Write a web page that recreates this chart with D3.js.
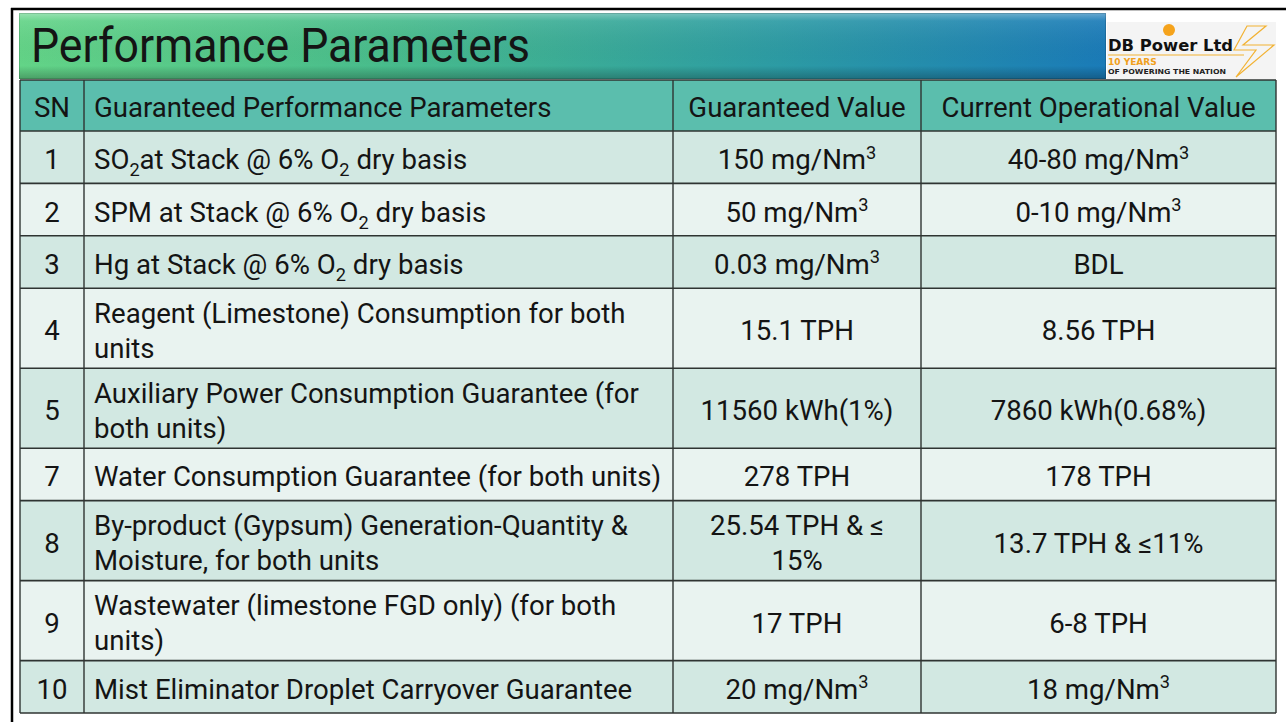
<!DOCTYPE html>
<html>
<head>
<meta charset="utf-8">
<script src="https://cdn.jsdelivr.net/npm/d3@7"></script>
<style>
  body { margin: 0; background: #fff; }
  svg text { font-family: Roboto, 'Noto Sans', sans-serif; fill: #141414; }
</style>
</head>
<body>
<svg id="chart" width="1286" height="722"></svg>
<script>
// ── Data ──────────────────────────────────────────────────────────────
// _{x} = subscript, ^{x} = superscript ; one array entry per text line
var title = 'Performance Parameters';
var headers = ['SN', 'Guaranteed Performance Parameters', 'Guaranteed Value', 'Current Operational Value'];
var sn = ['1', '2', '3', '4', '5', '7', '8', '9', '10'];
var params = [
  ['SO_{2}at Stack @ 6% O_{2} dry basis'],
  ['SPM at Stack @ 6% O_{2} dry basis'],
  ['Hg at Stack @ 6% O_{2} dry basis'],
  ['Reagent (Limestone) Consumption for both', 'units'],
  ['Auxiliary Power Consumption Guarantee (for', 'both units)'],
  ['Water Consumption Guarantee (for both units)'],
  ['By-product (Gypsum) Generation-Quantity &', 'Moisture, for both units'],
  ['Wastewater (limestone FGD only) (for both', 'units)'],
  ['Mist Eliminator Droplet Carryover Guarantee']
];
var guaranteed = [
  ['150 mg/Nm^{3}'], ['50 mg/Nm^{3}'], ['0.03 mg/Nm^{3}'], ['15.1 TPH'],
  ['11560 kWh(1%)'], ['278 TPH'], ['25.54 TPH & ≤', '15%'], ['17 TPH'], ['20 mg/Nm^{3}']
];
var current = [
  ['40-80 mg/Nm^{3}'], ['0-10 mg/Nm^{3}'], ['BDL'], ['8.56 TPH'],
  ['7860 kWh(0.68%)'], ['178 TPH'], ['13.7 TPH & ≤11%'], ['6-8 TPH'], ['18 mg/Nm^{3}']
];
var logoName = 'DB Power Ltd';
var logoYears = '10 YEARS';
var logoTag = 'OF POWERING THE NATION';

// ── Layout ────────────────────────────────────────────────────────────
var FS = 27.6;                      // body font size
var BASE = FS * 0.36 + 2;           // centre -> baseline
var colEdges = [20, 84, 673, 921, 1276];
var tableTop = 80, headerH = 51;
var singleH = 52.4, doubleH = 80, lineGap = 35;
var rowFill = ['#d2e8e2', '#e9f3f0'];
var headFill = '#5bbead';
var gridColor = '#2f3432';

var svg = d3.select('#chart');
var defs = svg.append('defs');

// banner gradients
var g1 = defs.append('linearGradient').attr('id', 'bannerH').attr('x1', 0).attr('x2', 1).attr('y1', 0).attr('y2', 0);
[['0%', '#63d487'], ['35%', '#47bb8c'], ['70%', '#2c9ba4'], ['100%', '#1a7bb8']].forEach(function (s) {
  g1.append('stop').attr('offset', s[0]).attr('stop-color', s[1]);
});
var g2 = defs.append('linearGradient').attr('id', 'bannerV').attr('x1', 0).attr('x2', 0).attr('y1', 0).attr('y2', 1);
[['0%', '#ffffff', 0.35], ['12%', '#ffffff', 0.08], ['80%', '#000000', 0.0], ['100%', '#000000', 0.25]].forEach(function (s) {
  g2.append('stop').attr('offset', s[0]).attr('stop-color', s[1]).attr('stop-opacity', s[2]);
});

// outer frame
svg.append('line').attr('x1', 11).attr('x2', 1286).attr('y1', 9).attr('y2', 9)
  .attr('stroke', '#000').attr('stroke-width', 2.5);
svg.append('line').attr('x1', 12).attr('x2', 12).attr('y1', 8).attr('y2', 722)
  .attr('stroke', '#000').attr('stroke-width', 2.5);

// banner
svg.append('rect').attr('x', 19).attr('y', 13).attr('width', 1087).attr('height', 66).attr('fill', 'url(#bannerH)');
svg.append('rect').attr('x', 19).attr('y', 13).attr('width', 1087).attr('height', 66).attr('fill', 'url(#bannerV)');
svg.append('rect').attr('x', 19.5).attr('y', 13.5).attr('width', 1086).attr('height', 65)
  .attr('fill', 'none').attr('stroke', '#000').attr('stroke-opacity', 0.15);
svg.append('text').attr('x', 31).attr('y', 62)
  .attr('font-size', 48).attr('textLength', 499).attr('lengthAdjust', 'spacingAndGlyphs')
  .style('fill', '#141414').text(title);

// logo
var logo = svg.append('g');
logo.append('rect').attr('x', 1107).attr('y', 22).attr('width', 169).attr('height', 57).attr('fill', '#f4f4f4');
logo.append('circle').attr('cx', 1169).attr('cy', 30).attr('r', 6).attr('fill', '#f5a31c');
logo.append('text').attr('x', 1108).attr('y', 51).attr('font-size', 15).attr('font-weight', 900)
  .style('font-family', "'DejaVu Sans', sans-serif").style('fill', '#111')
  .attr('textLength', 125).attr('lengthAdjust', 'spacingAndGlyphs').text(logoName);
logo.append('line').attr('x1', 1108).attr('x2', 1244).attr('y1', 55).attr('y2', 55)
  .attr('stroke', '#f2b233').attr('stroke-width', 1);
logo.append('text').attr('x', 1108).attr('y', 65).attr('font-size', 9).attr('font-weight', 700)
  .style('font-family', "'DejaVu Sans', sans-serif").style('fill', '#f0a020').text(logoYears);
logo.append('text').attr('x', 1108).attr('y', 74).attr('font-size', 6.8).attr('font-weight', 700)
  .style('font-family', "'DejaVu Sans', sans-serif").style('fill', '#222')
  .attr('textLength', 118).attr('lengthAdjust', 'spacingAndGlyphs').text(logoTag);
logo.append('path')
  .attr('d', 'M1247,26 L1266,26 L1243,45 L1274,45 L1236,77 L1256,50 L1234,50 Z')
  .attr('fill', 'none').attr('stroke', '#f2b233').attr('stroke-width', 1.2).attr('stroke-linejoin', 'miter');

// ── Table ─────────────────────────────────────────────────────────────
var rows = sn.map(function (s, i) {
  var n = Math.max(params[i].length, guaranteed[i].length, current[i].length);
  return { cells: [[s], params[i], guaranteed[i], current[i]], lines: n };
});
var y = tableTop + headerH;
rows.forEach(function (r) { r.y = y; r.h = r.lines > 1 ? doubleH : singleH; y += r.h; });
var tableBottom = y;

// writes "SO_{2}at" style strings as tspans (sub/superscript)
function richText(sel, str, fs) {
  var parts = str.split(/([_^]\{[^}]*\})/).filter(function (p) { return p.length; });
  var back = 0;
  parts.forEach(function (p) {
    var m = p.match(/^([_^])\{([^}]*)\}$/);
    if (m) {
      var shift = m[1] === '_' ? fs * 0.26 : -fs * 0.38;
      sel.append('tspan').attr('dy', shift - back).attr('font-size', fs * 0.66).text(m[2]);
      back = shift;
    } else {
      sel.append('tspan').attr('dy', -back).text(p);
      back = 0;
    }
  });
}

var table = svg.append('g');

// header row
table.append('rect').attr('x', colEdges[0]).attr('y', tableTop)
  .attr('width', colEdges[4] - colEdges[0]).attr('height', headerH).attr('fill', headFill);
headers.forEach(function (h, c) {
  var left = c === 1;
  table.append('text')
    .attr('x', left ? colEdges[c] + 10 : (colEdges[c] + colEdges[c + 1]) / 2)
    .attr('y', tableTop + headerH / 2 + BASE)
    .attr('text-anchor', left ? 'start' : 'middle')
    .attr('font-size', FS).text(h);
});

// body rows
var rowG = table.selectAll('g.row').data(rows).enter().append('g').attr('class', 'row');
rowG.append('rect')
  .attr('x', colEdges[0]).attr('y', function (d) { return d.y; })
  .attr('width', colEdges[4] - colEdges[0]).attr('height', function (d) { return d.h; })
  .attr('fill', function (d, i) { return rowFill[i % 2]; });

rowG.each(function (d) {
  var g = d3.select(this);
  d.cells.forEach(function (lines, c) {
    var left = c === 1;
    var cy = d.y + d.h / 2 - (lines.length - 1) * lineGap / 2;
    lines.forEach(function (ln, k) {
      var t = g.append('text')
        .attr('x', left ? colEdges[c] + 10 : (colEdges[c] + colEdges[c + 1]) / 2)
        .attr('y', cy + k * lineGap + BASE)
        .attr('text-anchor', left ? 'start' : 'middle')
        .attr('font-size', FS);
      richText(t, ln, FS);
    });
  });
});

// grid lines
var hLines = [tableTop, tableTop + headerH].concat(rows.map(function (r) { return r.y + r.h; }));
table.selectAll('line.h').data(hLines).enter().append('line')
  .attr('x1', colEdges[0]).attr('x2', colEdges[4])
  .attr('y1', function (d) { return d; }).attr('y2', function (d) { return d; })
  .attr('stroke', gridColor).attr('stroke-width', 1.6);
table.selectAll('line.v').data(colEdges).enter().append('line')
  .attr('x1', function (d) { return d; }).attr('x2', function (d) { return d; })
  .attr('y1', tableTop).attr('y2', tableBottom)
  .attr('stroke', gridColor).attr('stroke-width', 1.4);
</script>
</body>
</html>
